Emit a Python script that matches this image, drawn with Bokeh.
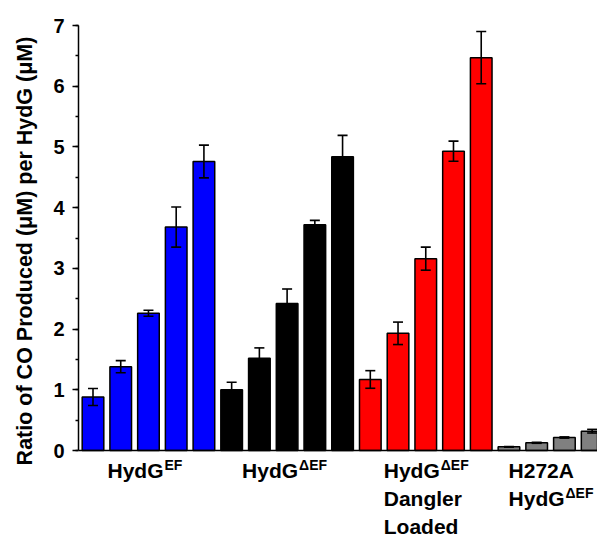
import math
from bokeh.plotting import figure
from bokeh.layouts import row
from bokeh.models import (ColumnDataSource, Range1d, Whisker, TeeHead, Span,
                          SingleIntervalTicker)
from bokeh.core.properties import value
from bokeh.embed import file_html
from bokeh.resources import INLINE

# ---- data ----
blue_vals = [0.88, 1.38, 2.26, 3.68, 4.76]
blue_err = [0.14, 0.10, 0.05, 0.33, 0.27]
black_vals = [1.00, 1.52, 2.42, 3.72, 4.84]
black_err = [0.125, 0.17, 0.24, 0.07, 0.35]
red_vals = [1.17, 1.93, 3.16, 4.93, 6.47]
red_err = [0.145, 0.185, 0.19, 0.165, 0.43]
gray_vals = [0.06, 0.127, 0.214, 0.318]
gray_err = [0.005, 0.008, 0.01, 0.03]

series_vals = [blue_vals, black_vals, red_vals, gray_vals]
series_err = [blue_err, black_err, red_err, gray_err]
series_colors = ["#0000FF", "#000000", "#FF0000", "#808080"]

# group label lines: (main text, superscript)
group_lines = [
    [("HydG", "EF")],
    [("HydG", "\u0394EF")],
    [("HydG", "\u0394EF"), ("Dangler", ""), ("Loaded", "")],
    [("H272A", ""), ("HydG", "\u0394EF")],
]
group_left_px = [-41, -45, -42, -42]

y_label = "Ratio of CO Produced (\u03bcM) per HydG (\u03bcM)"

FONT = "Liberation Sans"
W, H = 597, 536
LW = 40                  # width of the strip holding the y-axis title
LEFT, TOP = 78, 25
AXIS_Y_PX = 450          # pixel row of y = 0
PPU_Y = (AXIS_Y_PX - TOP) / 7.0
PITCH = 27.73
X0_PX = 92.5

xr = Range1d(-(X0_PX - LEFT) / PITCH, (W - X0_PX) / PITCH)

p = figure(width=W - LW, height=H, output_backend="svg", toolbar_location=None,
           x_axis_location=None, x_range=xr,
           y_range=Range1d(-(H - AXIS_Y_PX) / PPU_Y, 7),
           min_border_left=LEFT - LW, min_border_right=0, min_border_top=TOP,
           min_border_bottom=0)
p.outline_line_color = None
p.grid.visible = False
p.background_fill_color = "white"
p.border_fill_color = "white"

xs_all, tops_all, errs_all, colors_all = [], [], [], []
centers = []
idx = 0
for vals, errs, col in zip(series_vals, series_err, series_colors):
    start = idx
    for v, e in zip(vals, errs):
        xs_all.append(idx)
        tops_all.append(v)
        errs_all.append(e)
        colors_all.append(col)
        idx += 1
    centers.append((start + idx - 1) / 2.0)

src = ColumnDataSource(dict(
    x=xs_all, top=tops_all, color=colors_all,
    upper=[t + e for t, e in zip(tops_all, errs_all)],
    lower=[t - e for t, e in zip(tops_all, errs_all)],
))
p.vbar(x="x", top="top", width=0.78, bottom=0, source=src,
       fill_color="color", line_color="black", line_width=1.5)

wh = Whisker(source=src, base="x", upper="upper", lower="lower", level="overlay",
             line_color="black", line_width=1.6,
             upper_head=TeeHead(size=10, line_color="black", line_width=1.6),
             lower_head=TeeHead(size=10, line_color="black", line_width=1.6))
p.add_layout(wh)

# x baseline
p.add_layout(Span(location=0, dimension="width", line_color="black", line_width=1.5))

# y axis (ticks and tick labels)
ya = p.yaxis[0]
ya.bounds = (0, 7)
ya.ticker = SingleIntervalTicker(interval=1, num_minor_ticks=2)
ya.major_label_text_font = FONT
ya.major_label_text_font_style = "bold"
ya.major_label_text_font_size = "20px"
ya.major_label_text_color = "black"
ya.major_label_standoff = 8
ya.axis_line_color = "black"
ya.axis_line_width = 1.5
ya.major_tick_line_color = "black"
ya.major_tick_line_width = 1.5
ya.major_tick_out = 6
ya.major_tick_in = 0
ya.minor_tick_line_color = "black"
ya.minor_tick_line_width = 1.5
ya.minor_tick_out = 3
ya.minor_tick_in = 0

# group labels as text glyphs below the baseline
lx_, ly_, lt_, lo_, ls_ = [], [], [], [], []
for c, lines, lx in zip(centers, group_lines, group_left_px):
    for k, (main, sup) in enumerate(lines):
        base_px = 20 + 27.8 * k
        lx_.append(c); ly_.append(-base_px / PPU_Y); lt_.append(main)
        lo_.append(lx); ls_.append("21px")
        if sup:
            lx_.append(c); ly_.append(-(base_px - 5.5) / PPU_Y); lt_.append(sup)
            lo_.append(lx + 57); ls_.append("14px")
lab = ColumnDataSource(dict(x=lx_, y=ly_, text=lt_, xo=lo_, fs=ls_))
p.text(x="x", y="y", text="text", x_offset="xo", text_font_size="fs",
       source=lab, text_font=value(FONT), text_font_style="bold",
       text_color="black", text_align="left", text_baseline="alphabetic")

# ---- strip with the y-axis title (pixel coordinates) ----
pl = figure(width=LW, height=H, output_backend="svg", toolbar_location=None,
            x_axis_location=None, y_axis_location=None,
            x_range=Range1d(0, LW), y_range=Range1d(H, 0),
            min_border_left=0, min_border_right=0, min_border_top=0,
            min_border_bottom=0)
pl.outline_line_color = None
pl.grid.visible = False
pl.background_fill_color = "white"
pl.border_fill_color = "white"
title_src = ColumnDataSource(dict(x=[24.5], y=[(TOP + AXIS_Y_PX) / 2.0 - 1], text=[y_label]))
pl.text(x="x", y="y", text="text", source=title_src, angle=math.pi / 2,
        text_font=value(FONT), text_font_style="bold", text_font_size="21.5px",
        text_color="black", text_align="center", text_baseline="middle")

layout = row(pl, p, spacing=0)
open("out.html", "w").write(file_html(layout, INLINE))
